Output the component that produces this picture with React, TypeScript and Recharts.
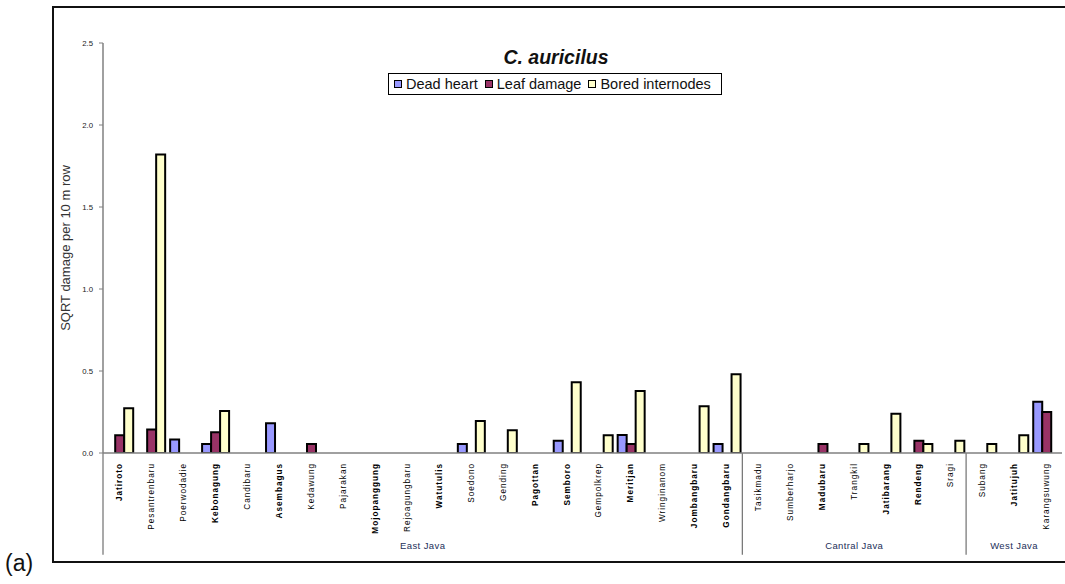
import React from 'react';
import { BarChart, Bar, XAxis, YAxis, Legend, ReferenceArea, Label } from 'recharts';

// Sugar mills sampled, grouped by province
const sites = [
  'Jatiroto', 'Pesantrenbaru', 'Poerwodadie', 'Kebonagung', 'Candibaru', 'Asembagus',
  'Kedawung', 'Pajarakan', 'Mojopanggung', 'Rejoagungbaru', 'Watutulis', 'Soedono',
  'Gending', 'Pagottan', 'Semboro', 'Gempolkrep', 'Meritjan', 'Wringinanom',
  'Jombangbaru', 'Gondangbaru',
  'Tasikmadu', 'Sumberharjo', 'Madubaru', 'Trangkil', 'Jatibarang', 'Rendeng', 'Sragi',
  'Subang', 'Jatitujuh', 'Karangsuwung',
];

const regionNames = ['East Java', 'Cantral Java', 'West Java'];
const regionFirst = ['Jatiroto', 'Tasikmadu', 'Subang'];
const regionLast = ['Gondangbaru', 'Sragi', 'Karangsuwung'];

// SQRT damage per 10 m row
const deadHeart = [
  0, 0, 0.083, 0.055, 0, 0.181, 0, 0, 0, 0, 0, 0.055, 0, 0, 0.075, 0, 0.11, 0, 0, 0.055,
  0, 0, 0, 0, 0, 0, 0,
  0, 0, 0.313,
];
const leafDamage = [
  0.108, 0.143, 0, 0.126, 0, 0, 0.055, 0, 0, 0, 0, 0, 0, 0, 0, 0, 0.055, 0, 0, 0,
  0, 0, 0.055, 0, 0, 0.075, 0,
  0, 0, 0.25,
];
const boredInternodes = [
  0.273, 1.82, 0, 0.256, 0, 0, 0, 0, 0, 0, 0, 0.195, 0.138, 0, 0.431, 0.108, 0.378, 0, 0.285, 0.48,
  0, 0, 0, 0.055, 0.24, 0.055, 0.075,
  0.055, 0.108, 0,
];

const yTicks = [0, 0.5, 1, 1.5, 2, 2.5];

const seriesNames = ['Dead heart', 'Leaf damage', 'Bored internodes'];
const seriesColors = ['#9999FF', '#993366', '#FFFFCC'];

const data = sites.map((site, i) => ({
  site,
  deadHeart: deadHeart[i],
  leafDamage: leafDamage[i],
  boredInternodes: boredInternodes[i],
}));

const FONT = '"Liberation Sans", Arial, Helvetica, sans-serif';

const boldSites = new Set([
  'Jatiroto', 'Kebonagung', 'Asembagus', 'Mojopanggung', 'Watutulis', 'Pagottan', 'Semboro',
  'Meritjan', 'Jombangbaru', 'Gondangbaru', 'Madubaru', 'Jatibarang', 'Rendeng', 'Jatitujuh',
]);

const SiteTick = (props: any) => {
  const { x, y, payload } = props;
  return (
    <text
      transform={`translate(${x + 3},${y + 8}) rotate(-90)`}
      textAnchor="end"
      fontSize={8.2}
      letterSpacing={1}
      fontFamily={FONT}
      fontWeight={boldSites.has(payload.value) ? 'bold' : 'normal'}
      fill="#000"
    >
      {payload.value}
    </text>
  );
};

const regionShape = (name: string) => (props: any) => {
  const { x, y, width, height } = props;
  return (
    <g>
      <line x1={x} y1={y} x2={x} y2={y + height} stroke="#707070" strokeWidth={1.2} />
      <text
        x={x + width / 2}
        y={y + height - 6}
        textAnchor="middle"
        fontSize={9.5}
        letterSpacing={0.4}
        fontFamily={FONT}
        fill="#24305a"
      >
        {name}
      </text>
    </g>
  );
};

const LegendBox = () => (
  <div
    style={{
      display: 'flex',
      alignItems: 'center',
      border: '1px solid #000',
      height: 20,
      width: 332,
      boxSizing: 'content-box',
      fontFamily: FONT,
      fontSize: 14.5,
      color: '#111',
      background: '#fff',
    }}
  >
    {seriesNames.map((n, i) => (
      <span key={n} style={{ display: 'flex', alignItems: 'center', marginLeft: i === 0 ? 5 : 7 }}>
        <span
          style={{
            display: 'inline-block',
            width: 6,
            height: 6,
            border: '1.5px solid #000',
            background: seriesColors[i],
            marginRight: 4,
          }}
        />
        <span style={{ whiteSpace: 'nowrap' }}>{n}</span>
      </span>
    ))}
  </div>
);

export default function App() {
  return (
    <div
      style={{
        position: 'absolute',
        left: 0,
        top: 0,
        width: 1065,
        height: 584,
        background: '#fff',
        overflow: 'hidden',
        fontFamily: FONT,
      }}
    >
      <div
        style={{
          position: 'absolute',
          left: 52,
          top: 6,
          width: 1100,
          height: 557,
          border: '2px solid #111',
          boxSizing: 'border-box',
        }}
      />
      <div style={{ position: 'absolute', left: 5, top: 550, fontSize: 23, lineHeight: '26px', color: '#111' }}>
        (a)
      </div>
      <div
        style={{
          position: 'absolute',
          left: 0,
          width: 1112,
          top: 45,
          textAlign: 'center',
          fontSize: 19.5,
          fontWeight: 'bold',
          fontStyle: 'italic',
          lineHeight: '24px',
          color: '#111',
        }}
      >
        C. auricilus
      </div>
      <div style={{ position: 'absolute', left: 0, top: 0 }}>
        <BarChart
          width={1065}
          height={584}
          data={data}
          margin={{ top: 43, right: 3, bottom: 31, left: 53 }}
          barGap={0}
          barCategoryGap="10%"
        >
          <XAxis
            dataKey="site"
            interval={0}
            height={100}
            tickLine={false}
            tickSize={0}
            tick={<SiteTick />}
            axisLine={{ stroke: '#808080', strokeWidth: 1.5 }}
          />
          <YAxis
            width={50}
            domain={[0, 2.5]}
            ticks={yTicks}
            allowDataOverflow
            tickFormatter={(v: number) => v.toFixed(1)}
            tick={{ fontSize: 7.8, fill: '#222', fontFamily: FONT }}
            tickSize={4}
            tickMargin={6}
            tickLine={{ stroke: '#808080' }}
            axisLine={{ stroke: '#808080', strokeWidth: 1.5 }}
          >
            <Label
              content={(p: any) => {
                const vb = p.viewBox || {};
                const cx = vb.x + 12;
                const cy = vb.y + vb.height / 2;
                return (
                  <text
                    transform={`translate(${cx},${cy}) rotate(-90)`}
                    textAnchor="middle"
                    dominantBaseline="central"
                    fontSize={13}
                    fontFamily={FONT}
                    fill="#333"
                  >
                    SQRT damage per 10 m row
                  </text>
                );
              }}
            />
          </YAxis>
          <Legend
            verticalAlign="middle"
            layout="horizontal"
            wrapperStyle={{ top: 73, left: 388, width: 336, height: 22 }}
            content={() => <LegendBox />}
          />
          {regionNames.map((name, i) => (
            <ReferenceArea
              key={name}
              x1={regionFirst[i]}
              x2={regionLast[i]}
              y1={0}
              y2={-0.62}
              ifOverflow="visible"
              shape={regionShape(name)}
            />
          ))}
          <Bar dataKey="deadHeart" name={seriesNames[0]} fill={seriesColors[0]} stroke="#000" strokeWidth={2} isAnimationActive={false} />
          <Bar dataKey="leafDamage" name={seriesNames[1]} fill={seriesColors[1]} stroke="#000" strokeWidth={2} isAnimationActive={false} />
          <Bar dataKey="boredInternodes" name={seriesNames[2]} fill={seriesColors[2]} stroke="#000" strokeWidth={2} isAnimationActive={false} />
        </BarChart>
      </div>
    </div>
  );
}
